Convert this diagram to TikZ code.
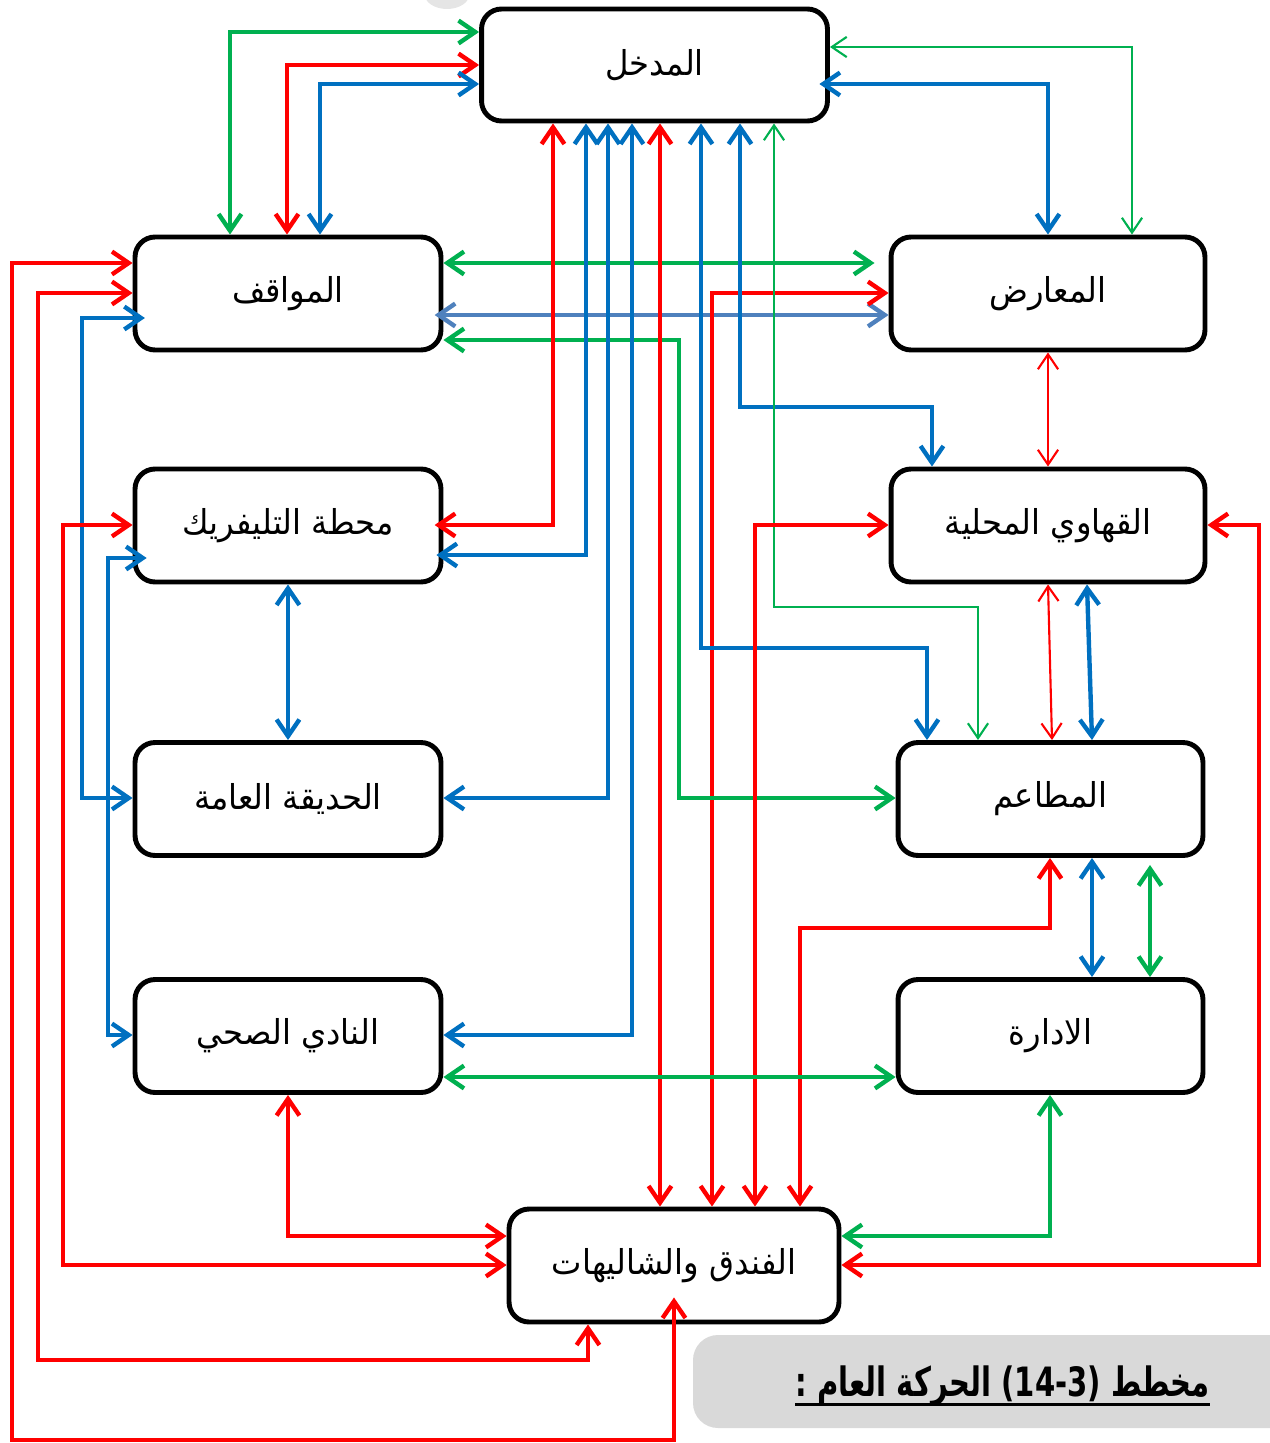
\documentclass[tikz,border=0pt]{standalone}
\usepackage{fontspec}
\TeXXeTstate=1
\newfontfamily\arabicfont[Script=Arabic]{DejaVu Sans}
\usetikzlibrary{arrows.meta,calc}
\definecolor{rd}{RGB}{255,0,0}
\definecolor{gn}{RGB}{0,176,80}
\definecolor{bl}{RGB}{0,112,192}
\definecolor{sb}{RGB}{79,129,189}
\definecolor{capgray}{RGB}{217,217,217}
\begin{document}
\begin{tikzpicture}[x=0.02cm,y=-0.02cm,
  box/.style={draw=black,line width=2.8pt,rounded corners=0.4cm,fill=white,
    minimum height=2.26cm,inner sep=0pt,font=\arabicfont\fontsize{19.5}{22}\selectfont},
  lbox/.style={box,minimum width=6.12cm},
  rbox/.style={box,minimum width=6.28cm},
  tipk/.tip={Straight Barb[length=9.5pt,width=13pt]},
  tipn/.tip={Straight Barb[length=8.5pt,width=11.5pt]},
  tk/.style={line width=2.5pt,tipk-tipk},
  tn/.style={line width=1.2pt,tipn-tipn}]
\useasboundingbox (0,0) rectangle (1269,1443);
\fill[gray!20] (447,-6) ellipse [x radius=0.45cm, y radius=0.3cm];
% boxes
\node[box,minimum width=6.92cm,minimum height=2.24cm] (ent) at (654.5,65) {\scalebox{0.94}[1]{\beginR المدخل\endR}};
\node[lbox] (park) at (288,293.5) {\scalebox{0.94}[1]{\beginR المواقف\endR}};
\node[rbox] (exh) at (1048,293.5) {\scalebox{0.94}[1]{\beginR المعارض\endR}};
\node[lbox] (cab) at (288,525.5) {\scalebox{0.94}[1]{\beginR محطة التليفريك\endR}};
\node[rbox] (caf) at (1048,525.5) {\scalebox{0.94}[1]{\beginR القهاوي المحلية\endR}};
\node[lbox] (gar) at (288,799) {\scalebox{0.94}[1]{\beginR الحديقة العامة\endR}};
\node[box,minimum width=6.1cm] (res) at (1050.5,799) {\scalebox{0.94}[1]{\beginR المطاعم\endR}};
\node[lbox] (club) at (288,1036) {\scalebox{0.94}[1]{\beginR النادي الصحي\endR}};
\node[box,minimum width=6.1cm] (adm) at (1050.5,1036) {\scalebox{0.94}[1]{\beginR الادارة\endR}};
\node[box,minimum width=6.6cm] (hot) at (674,1265.5) {\scalebox{0.94}[1]{\beginR الفندق والشاليهات\endR}};
% top left
\coordinate (a1) at (230,32);
\draw[tk,gn] (park.north -| a1) -- (a1) -- (ent.west |- a1);
\coordinate (a2) at (287,65);
\draw[tk,rd] (park.north -| a2) -- (a2) -- (ent.west |- a2);
\coordinate (a3) at (320,84);
\draw[tk,bl] (park.north -| a3) -- (a3) -- (ent.west |- a3);
% top right
\coordinate (a4) at (1132,47);
\draw[tn,gn] (ent.east |- a4) -- (a4) -- (exh.north -| a4);
\coordinate (a5) at (1048,84);
\draw[tk,bl,shorten <=-6pt] (ent.east |- a5) -- (a5) -- (exh.north -| a5);
% parking - exhibitions
\coordinate (h1) at (0,263);
\draw[tk,gn,shorten >=8pt] (park.east |- h1) -- (exh.west |- h1);
\coordinate (h2) at (0,315);
\draw[tk,sb,shorten <=-5pt] (park.east |- h2) -- (exh.west |- h2);
\coordinate (r8) at (712,293);
\draw[tk,rd] (hot.north -| r8) -- (r8) -- (exh.west |- r8);
\coordinate (g9a) at (679,340); \coordinate (g9b) at (679,798);
\draw[tk,gn] (park.east |- g9a) -- (g9a) -- (g9b) -- (res.west |- g9b);
% from entrance bottom
\coordinate (e1) at (553,525);
\draw[tk,rd,shorten >=-5pt] (ent.south -| e1) -- (e1) -- (cab.east |- e1);
\coordinate (e2) at (586,555);
\draw[tk,bl,shorten >=-4pt] (ent.south -| e2) -- (e2) -- (cab.east |- e2);
\coordinate (e3) at (608,798);
\draw[tk,bl] (ent.south -| e3) -- (e3) -- (gar.east |- e3);
\coordinate (e4) at (632,1035);
\draw[tk,bl] (ent.south -| e4) -- (e4) -- (club.east |- e4);
\coordinate (e5) at (660,0);
\draw[tk,rd] (ent.south -| e5) -- (hot.north -| e5);
\coordinate (e6a) at (701,648); \coordinate (e6b) at (927,648);
\draw[tk,bl] (ent.south -| e6a) -- (e6a) -- (e6b) -- (res.north -| e6b);
\coordinate (e7a) at (740,407); \coordinate (e7b) at (932,407);
\draw[tk,bl] (ent.south -| e7a) -- (e7a) -- (e7b) -- (caf.north -| e7b);
\coordinate (e8a) at (774,607); \coordinate (e8b) at (978,607);
\draw[tn,gn] (ent.south -| e8a) -- (e8a) -- (e8b) -- (res.north -| e8b);
% right column
\draw[tn,rd] (exh.south) -- (caf.north);
\coordinate (c1) at (755,525);
\draw[tk,rd] (hot.north -| c1) -- (c1) -- (caf.west |- c1);
\coordinate (c2a) at (1259,525); \coordinate (c2b) at (1259,1265);
\draw[tk,rd] (caf.east |- c2a) -- (c2a) -- (c2b) -- (hot.east |- c2b);
\coordinate (c3a) at (1048,0); \coordinate (c3b) at (1052,0);
\draw[tn,rd] (caf.south -| c3a) -- (res.north -| c3b);
\coordinate (c4a) at (1087,0); \coordinate (c4b) at (1092,0);
\draw[tk,bl] (caf.south -| c4a) -- (res.north -| c4b);
\coordinate (c5a) at (1050,928); \coordinate (c5b) at (800,928);
\draw[tk,rd] (res.south -| c5a) -- (c5a) -- (c5b) -- (hot.north -| c5b);
\draw[tk,bl] (res.south -| c4b) -- (adm.north -| c4b);
\coordinate (c6) at (1150,0);
\draw[tk,gn,shorten <=4pt] (res.south -| c6) -- (adm.north -| c6);
\coordinate (c7) at (0,1077);
\draw[tk,gn] (club.east |- c7) -- (adm.west |- c7);
\coordinate (c8) at (1050,1236);
\draw[tk,gn] (adm.south -| c8) -- (c8) -- (hot.east |- c8);
% left side
\coordinate (l1a) at (12,263); \coordinate (l1b) at (12,1440); \coordinate (l1c) at (674,1440);
\draw[tk,rd] (park.west |- l1a) -- (l1a) -- (l1b) -- (l1c) -- ($(hot.south)+(0,-27)$);
\coordinate (l2a) at (38,293); \coordinate (l2b) at (38,1360); \coordinate (l2c) at (588,1360);
\draw[tk,rd] (park.west |- l2a) -- (l2a) -- (l2b) -- (l2c) -- (hot.south -| l2c);
\coordinate (l3a) at (82,318); \coordinate (l3b) at (82,798);
\draw[tk,bl,shorten <=-7pt] (park.west |- l3a) -- (l3a) -- (l3b) -- (gar.west |- l3b);
\coordinate (l4a) at (63,525); \coordinate (l4b) at (63,1265);
\draw[tk,rd] (cab.west |- l4a) -- (l4a) -- (l4b) -- (hot.west |- l4b);
\coordinate (l5a) at (108,558); \coordinate (l5b) at (108,1035);
\draw[tk,bl,shorten <=-8pt] (cab.west |- l5a) -- (l5a) -- (l5b) -- (club.west |- l5b);
\draw[tk,bl] (cab.south) -- (gar.north);
\coordinate (l6) at (288,1236);
\draw[tk,rd] (club.south) -- (l6) -- (hot.west |- l6);
% caption
\fill[capgray, rounded corners=0.5cm] (693,1335) rectangle (1320,1428);
\node[font=\arabicfont\bfseries\fontsize{23}{27}\selectfont, inner sep=0pt, anchor=base east] (cap) at (1210,1396) {\scalebox{0.72}[1]{\beginR مخطط (14-3) الحركة العام :\endR}};
\draw[line width=1.7pt] ([yshift=-5pt]cap.base west) -- ([yshift=-5pt]cap.base east);
\end{tikzpicture}
\end{document}
